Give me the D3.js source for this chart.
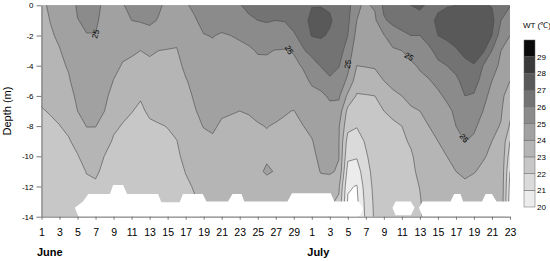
<!DOCTYPE html>
<html>
<head>
<meta charset="utf-8">
<script src="https://cdn.jsdelivr.net/npm/d3@7"></script>
<style>
  body { margin: 0; background: #fff; }
  svg { display: block; font-family: Arial, "Liberation Sans", sans-serif; }
</style>
</head>
<body>
<div class="chart-container"></div>
<script>
// sampling days (index 0 = June 1) and depths (m)
var depths = [0, 1, 2, 3, 4, 5, 6, 7, 8, 9, 10, 11, 12, 13, 14];
var xTickLabels = ['1','3','5','7','9','11','13','15','17','19','21','23','25','27','29',
                   '1','3','5','7','9','11','13','15','17','19','21','23'];
var monthLabels = ['June', 'July'];
var monthStart = [0, 30];
var depthTicks = [0, -2, -4, -6, -8, -10, -12, -14];
var levels = [20, 21, 22, 23, 24, 25, 26, 27, 28, 29];
var bandColors = ['#ececec', '#dadada', '#c7c7c7', '#b5b5b5', '#a1a1a1',
                  '#8b8b8b', '#737373', '#595959', '#3a3a3a', '#0a0a0a'];

// water temperature profiles, one per day, depth 0..14 m
var wt = [
  [23.9,23.8,23.7,23.6,23.5,23.35,23.15,22.95,22.8,22.7,22.6,22.5,22.4,22.3,22.2],
  [24.08,24.02,23.93,23.82,23.68,23.52,23.32,23.05,22.88,22.78,22.68,22.6,22.5,22.4,22.3],
  [24.35,24.25,24.1,23.97,23.82,23.62,23.42,23.2,22.98,22.85,22.75,22.66,22.58,22.5,22.42],
  [24.55,24.45,24.35,24.22,24.08,23.9,23.65,23.4,23.18,22.92,22.8,22.72,22.64,22.56,22.5],
  [25.1,24.98,24.85,24.7,24.55,24.4,24.2,24.0,23.6,23.25,22.95,22.82,22.74,22.66,22.6],
  [25.25,25.1,24.98,24.85,24.7,24.55,24.4,24.2,24.02,23.7,23.35,23.02,22.9,22.8,22.72],
  [25.2,25.1,24.98,24.85,24.7,24.55,24.4,24.2,24.02,23.7,23.4,23.1,22.9,22.82,22.75],
  [24.85,24.8,24.7,24.6,24.5,24.35,24.2,24.0,23.7,23.35,22.98,22.86,22.78,22.72,22.68],
  [24.8,24.7,24.55,24.4,24.2,23.98,23.7,23.4,23.15,22.9,22.78,22.72,22.68,22.64,22.6],
  [24.95,24.6,24.35,24.15,23.95,23.75,23.5,23.2,22.95,22.82,22.74,22.7,22.66,22.62,22.6],
  [25.2,25.0,24.55,24.1,23.85,23.6,23.35,23.02,22.86,22.78,22.72,22.68,22.65,22.62,22.6],
  [25.25,25.06,24.6,24.0,23.7,23.4,23.05,22.9,22.82,22.76,22.72,22.68,22.65,22.62,22.6],
  [25.3,25.15,24.7,24.1,23.85,23.6,23.4,23.1,22.9,22.8,22.74,22.7,22.66,22.63,22.6],
  [25.1,24.95,24.55,24.0,23.8,23.6,23.4,23.2,22.95,22.85,22.78,22.74,22.7,22.66,22.63],
  [24.85,24.6,24.2,23.98,23.8,23.6,23.45,23.25,23.02,22.88,22.8,22.75,22.7,22.67,22.64],
  [24.8,24.55,24.2,23.95,23.8,23.65,23.5,23.35,23.2,22.98,22.86,22.8,22.75,22.7,22.67],
  [24.95,24.8,24.6,24.4,24.15,23.95,23.8,23.65,23.5,23.35,23.2,23.02,22.9,22.84,22.8],
  [25.1,24.95,24.8,24.6,24.4,24.2,24.08,23.95,23.8,23.6,23.4,23.2,23.05,22.95,22.9],
  [25.3,25.15,24.98,24.85,24.7,24.55,24.4,24.2,24.03,23.8,23.6,23.4,23.2,23.1,23.05],
  [25.3,25.15,25.02,24.9,24.8,24.65,24.5,24.3,24.1,23.9,23.7,23.6,23.5,23.45,23.4],
  [25.4,25.2,24.95,24.8,24.65,24.5,24.3,24.1,23.9,23.7,23.6,23.5,23.45,23.4,23.35],
  [25.5,25.3,25.0,24.85,24.7,24.5,24.3,24.05,23.85,23.7,23.6,23.5,23.45,23.4,23.35],
  [25.95,25.5,25.05,24.9,24.75,24.55,24.3,24.0,23.8,23.7,23.6,23.55,23.5,23.45,23.4],
  [26.2,25.85,25.2,24.9,24.8,24.6,24.4,24.05,23.85,23.75,23.65,23.6,23.55,23.5,23.45],
  [26.3,26.0,25.6,25.05,24.85,24.7,24.45,24.15,23.95,23.8,23.75,23.85,23.65,23.6,23.55],
  [26.3,26.05,25.7,25.08,24.8,24.7,24.5,24.2,24.02,23.9,23.9,24.1,23.7,23.7,23.65],
  [26.4,26.0,25.6,24.97,24.85,24.7,24.45,24.15,23.95,23.85,23.8,23.95,23.7,23.65,23.6],
  [26.4,26.05,25.5,24.95,24.8,24.6,24.4,24.05,23.9,23.8,23.75,23.7,23.65,23.6,23.55],
  [26.6,26.3,25.9,25.05,24.85,24.6,24.35,23.98,23.85,23.8,23.75,23.7,23.65,23.6,23.55],
  [26.8,26.6,26.3,25.9,25.05,24.8,24.55,24.25,23.98,23.9,23.85,23.8,23.75,23.7,23.65],
  [26.95,27.3,27.05,26.3,25.6,25.1,24.8,24.5,24.2,23.95,23.8,23.75,23.7,23.65,23.6],
  [26.95,27.4,27.1,26.6,26.05,25.3,24.85,24.65,24.5,24.35,24.2,24.03,23.8,23.7,23.6],
  [26.9,27.1,26.9,26.6,26.35,25.85,25.1,24.8,24.6,24.4,24.25,24.1,23.6,23.2,22.9],
  [26.6,26.7,26.6,26.4,26.05,25.6,25.15,24.6,24.1,24.05,24.03,23.9,23.2,22.8,22.6],
  [26.4,26.2,26.0,25.6,25.25,24.8,23.8,22.7,22.3,21.6,21.2,20.6,20.1,19.9,19.8],
  [25.1,25.0,24.7,24.4,24.0,23.5,22.9,22.5,22.05,21.6,21.1,20.5,19.95,19.8,19.7],
  [24.9,24.85,24.7,24.4,24.05,23.5,22.95,22.7,22.4,22.1,21.9,21.7,21.5,21.3,21.2],
  [25.1,24.85,24.6,24.35,24.1,23.6,23.0,22.8,22.65,22.5,22.4,22.3,22.25,22.2,22.15],
  [26.2,25.9,24.95,24.6,24.3,24.0,23.6,23.0,22.8,22.7,22.6,22.55,22.5,22.45,22.4],
  [26.5,26.2,25.6,24.85,24.5,24.2,23.85,23.2,22.85,22.75,22.7,22.65,22.6,22.55,22.5],
  [26.8,26.4,25.8,25.0,24.6,24.35,24.0,23.5,23.0,22.85,22.8,22.75,22.7,22.65,22.6],
  [27.0,26.6,26.0,25.3,24.85,24.6,24.2,23.9,23.5,23.1,22.9,22.85,22.8,22.8,22.75],
  [27.1,26.8,26.0,25.6,25.1,24.8,24.4,24.0,23.7,23.5,23.3,23.15,23.02,22.95,22.9],
  [26.9,26.85,26.4,25.8,25.3,24.95,24.6,24.3,24.0,23.8,23.6,23.5,23.4,23.35,23.3],
  [26.9,27.1,27.0,26.3,25.8,25.2,24.85,24.6,24.3,24.0,23.8,23.7,23.6,23.55,23.5],
  [26.95,27.3,27.2,26.6,26.0,25.6,25.15,24.8,24.5,24.25,24.0,23.8,23.7,23.65,23.6],
  [27.0,27.5,27.4,26.9,26.3,25.8,25.4,25.15,25.0,24.6,24.3,24.0,23.8,23.7,23.6],
  [27.05,27.6,27.6,27.3,26.7,26.35,26.0,25.5,25.2,25.02,24.5,24.1,23.9,23.8,23.7],
  [27.1,27.7,27.7,27.4,26.95,26.45,25.9,25.5,25.2,24.8,24.4,24.03,23.8,23.7,23.6],
  [27.1,27.6,27.5,27.2,26.0,25.6,25.3,25.0,24.6,24.3,24.05,23.9,23.8,23.7,23.6],
  [26.95,27.3,27.0,26.0,25.6,25.0,24.7,24.45,24.2,24.0,23.9,23.85,23.8,23.8,23.75],
  [26.5,26.0,25.5,25.0,24.7,24.45,24.25,24.1,23.95,23.9,23.85,23.8,23.8,23.75,23.7],
  [26.05,25.5,25.0,24.5,24.2,24.0,23.5,23.2,22.9,22.0,21.5,21.0,20.7,20.5,20.4]
];

// no-data area below the lake bottom, [day index, depth]
var blanks = [
  [[3.7,13.4],[4.6,13.0],[5.2,12.5],[7.6,12.5],[7.95,11.9],[9.06,11.9],[9.5,12.5],[12.94,12.5],
   [13.3,13.05],[15.34,13.05],[15.7,12.5],[17.9,12.5],[18.3,13.0],[20.7,13.0],[21.2,12.5],
   [22.2,12.5],[22.5,13.0],[27.3,13.0],[27.8,12.45],[32.1,12.45],[32.5,13.0],[35.2,13.0],
   [35.7,13.45],[35.3,14.0],[4.1,14.0]],
  [[38.96,13.4],[39.3,13.0],[41.0,13.0],[41.4,13.4],[41.0,13.9],[39.3,13.9]],
  [[41.9,13.4],[42.3,13.0],[45.4,13.0],[45.8,12.5],[46.5,12.5],[46.8,13.0],[48.9,13.0],
   [49.3,12.5],[50.0,12.5],[50.5,13.0],[52.5,13.0],[52.5,14.0],[42.3,14.0]]
];

// "25" contour labels: [day index, depth, angle]
var contourLabels = [[6.0,1.9,-75],[27.5,2.95,60],[34.0,3.9,-80],[40.8,3.4,30],[46.9,8.8,50]];

var width = 550, height = 261;
var svg = d3.select('.chart-container').append('svg')
  .attr('width', width).attr('height', height);

var x = d3.scaleLinear().domain([0, 52]).range([41.5, 510]);
var y = d3.scaleLinear().domain([0, 14]).range([5.3, 216.7]);
var yAxisScale = d3.scaleLinear().domain([0, -14]).range([5.3, 216.7]);

var nx = wt.length, ny = depths.length;
var values = new Array(nx * ny);
for (var j = 0; j < ny; j++) {
  for (var i = 0; i < nx; i++) values[i + j * nx] = wt[i][j];
}

var contours = d3.contours().size([nx, ny]).thresholds(levels)(values);
var proj = d3.geoTransform({
  point: function(px, py) { this.stream.point(x(px - 0.5), y(py - 0.5)); }
});
var path = d3.geoPath(proj);

svg.append('clipPath').attr('id', 'plot-clip')
  .append('rect')
    .attr('x', x(0)).attr('y', y(0))
    .attr('width', x(52) - x(0)).attr('height', y(14) - y(0));

var plot = svg.append('g').attr('clip-path', 'url(#plot-clip)');

plot.append('rect')
  .attr('x', x(0)).attr('y', y(0))
  .attr('width', x(52) - x(0)).attr('height', y(14) - y(0))
  .attr('fill', '#fff');

plot.selectAll('path.band')
  .data(contours).enter()
  .append('path')
    .attr('class', 'band')
    .attr('d', path)
    .attr('fill', (d, i) => bandColors[i]);

plot.selectAll('path.iso')
  .data(contours).enter()
  .append('path')
    .attr('class', 'iso')
    .attr('d', path)
    .attr('fill', 'none')
    .attr('stroke', '#4a4a4a')
    .attr('stroke-width', 0.6);

plot.selectAll('path.blank')
  .data(blanks).enter()
  .append('path')
    .attr('class', 'blank')
    .attr('d', d => 'M' + d.map(p => x(p[0]) + ',' + y(p[1])).join('L') + 'Z')
    .attr('fill', '#fff');

plot.selectAll('text.clabel')
  .data(contourLabels).enter()
  .append('text')
    .attr('class', 'clabel')
    .attr('transform', d => `translate(${x(d[0])},${y(d[1])}) rotate(${d[2]})`)
    .attr('text-anchor', 'middle')
    .attr('dy', '0.35em')
    .attr('font-size', 8)
    .text('25');

/*
 * Axes
 */
var xAxis = d3.axisBottom(x)
  .tickValues(d3.range(0, 53, 2))
  .tickFormat((d, i) => xTickLabels[i])
  .tickSize(3).tickSizeOuter(0).tickPadding(9);

var yAxis = d3.axisLeft(yAxisScale)
  .tickValues(depthTicks)
  .tickFormat(d => String(d))
  .tickSize(5).tickSizeOuter(0).tickPadding(3);

var gX = svg.append('g')
  .attr('transform', `translate(0,${y(14)})`)
  .call(xAxis);
gX.selectAll('text').attr('font-size', 10.5).attr('fill', '#000');

var gY = svg.append('g')
  .attr('transform', `translate(${x(0)},0)`)
  .call(yAxis);
gY.selectAll('text').attr('font-size', 8).attr('fill', '#000');

svg.selectAll('.domain, .tick line').attr('stroke', '#777');

svg.append('text')
  .attr('transform', `translate(11,${(y(0) + y(14)) / 2}) rotate(-90)`)
  .attr('text-anchor', 'middle')
  .attr('font-size', 11)
  .text('Depth (m)');

svg.selectAll('text.month')
  .data(monthLabels).enter()
  .append('text')
    .attr('class', 'month')
    .attr('x', (d, i) => x(monthStart[i]) - 4.5)
    .attr('y', 256)
    .attr('font-size', 11)
    .attr('font-weight', 'bold')
    .text(d => d);

/*
 * Colour bar
 */
var cb = d3.scaleLinear().domain([20, 30]).range([207, 40]);
var legend = svg.append('g');

legend.selectAll('rect')
  .data(levels).enter()
  .append('rect')
    .attr('x', 524).attr('width', 11)
    .attr('y', d => cb(d + 1))
    .attr('height', d => cb(d) - cb(d + 1))
    .attr('fill', (d, i) => bandColors[i])
    .attr('stroke', '#666')
    .attr('stroke-width', 0.5);

legend.selectAll('text')
  .data(levels).enter()
  .append('text')
    .attr('x', 537)
    .attr('y', d => cb(d) + 3)
    .attr('font-size', 8)
    .text(d => d);

svg.append('text')
  .attr('x', 523).attr('y', 28)
  .attr('font-size', 8)
  .text('WT (\u2103)');
</script>
</body>
</html>
